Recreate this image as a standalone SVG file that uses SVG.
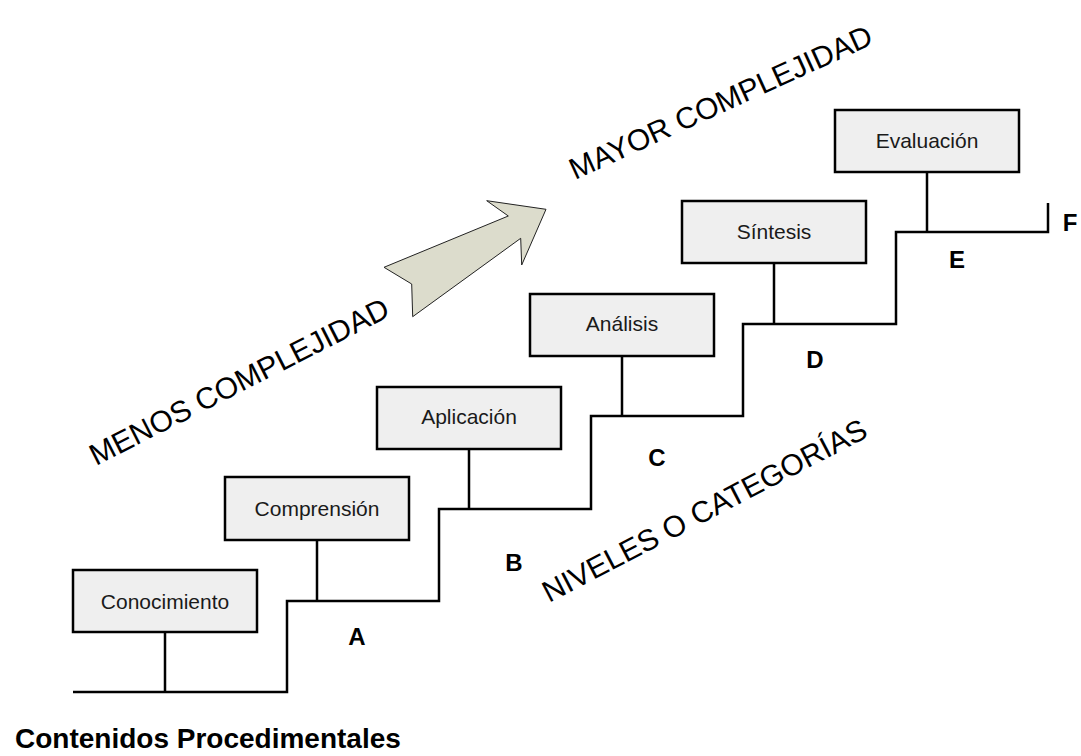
<svg xmlns="http://www.w3.org/2000/svg" width="1081" height="756" viewBox="0 0 1081 756">
<style>
.box{fill:#efefef;stroke:#000;stroke-width:2.5}
.bt{font-family:"Liberation Sans",Arial,sans-serif;font-size:21px;fill:#1a1a1a;text-anchor:middle}
.lbl{font-family:"Liberation Sans",Arial,sans-serif;font-size:24px;font-weight:bold;fill:#000;text-anchor:middle}
.rot{font-family:"Liberation Sans",Arial,sans-serif;font-size:30px;fill:#000}
.ln{fill:none;stroke:#000;stroke-width:2.5}
</style>
<rect width="1081" height="756" fill="#fff"/>
<g id="connectors">
<path class="ln" d="M73,692 H287 V601 H439 V509 H591 V416 H743 V324 H896 V232 H1048 V203"/>
<path class="ln" d="M165,632 V692 M317,540 V601 M469,449 V509 M622,356 V416 M774,263 V324 M927,172 V232"/>
</g>
<g id="n1"><rect class="box" x="73" y="570" width="184" height="62"/><text class="bt" x="165" y="608.5">Conocimiento</text></g>
<g id="n2"><rect class="box" x="225" y="477" width="184" height="63"/><text class="bt" x="317" y="515.5">Comprensión</text></g>
<g id="n3"><rect class="box" x="377" y="387" width="184" height="62"/><text class="bt" x="469" y="424">Aplicación</text></g>
<g id="n4"><rect class="box" x="530" y="294" width="184" height="62"/><text class="bt" x="622" y="331">Análisis</text></g>
<g id="n5"><rect class="box" x="682" y="201" width="184" height="62"/><text class="bt" x="774" y="239">Síntesis</text></g>
<g id="n6"><rect class="box" x="835" y="110" width="184" height="62"/><text class="bt" x="927" y="148">Evaluación</text></g>
<g id="labels">
<text class="lbl" x="357" y="645">A</text>
<text class="lbl" x="514" y="571">B</text>
<text class="lbl" x="657" y="466">C</text>
<text class="lbl" x="815" y="368">D</text>
<text class="lbl" x="957" y="268">E</text>
<text class="lbl" x="1070" y="231">F</text>
</g>
<g id="arrow">
<polygon points="384,267.3 508.3,216 486.7,200.7 546,209.3 521.7,265 520.7,238.3 412.7,316.7 411.7,284" fill="#dcdccc" stroke="#222" stroke-width="1"/>
</g>
<g id="rotated">
<text class="rot" transform="translate(96,466) rotate(-27)">MENOS COMPLEJIDAD</text>
<text class="rot" transform="translate(575,180) rotate(-24.5)">MAYOR COMPLEJIDAD</text>
<text class="rot" transform="translate(549,603) rotate(-27.5)">NIVELES O CATEGORÍAS</text>
</g>
<text x="15" y="748" font-family="Liberation Sans, Arial, sans-serif" font-size="28" font-weight="bold">Contenidos Procedimentales</text>
</svg>
